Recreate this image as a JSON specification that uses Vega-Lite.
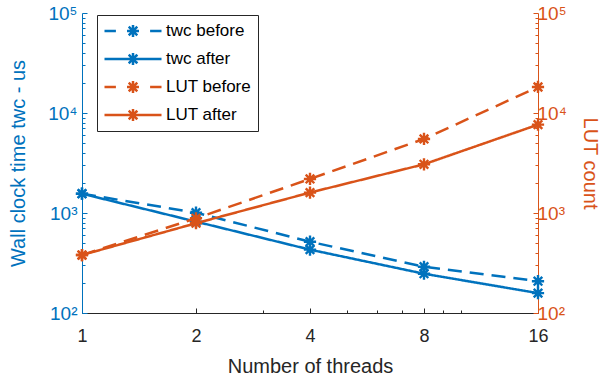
{
  "$schema": "https://vega.github.io/schema/vega-lite/v6.json",
  "width": 456,
  "height": 300,
  "autosize": {"type": "none"},
  "padding": {"left": 82, "top": 13, "right": 65, "bottom": 66},
  "config": {"view": {"stroke": null}, "font": "Liberation Sans"},
  "data": {
    "values": [
      {"threads": 1, "series": "twc before", "metric": "time", "value": 1560},
      {"threads": 2, "series": "twc before", "metric": "time", "value": 1007},
      {"threads": 4, "series": "twc before", "metric": "time", "value": 516},
      {"threads": 8, "series": "twc before", "metric": "time", "value": 290},
      {"threads": 16, "series": "twc before", "metric": "time", "value": 208},
      {"threads": 1, "series": "twc after", "metric": "time", "value": 1560},
      {"threads": 2, "series": "twc after", "metric": "time", "value": 820},
      {"threads": 4, "series": "twc after", "metric": "time", "value": 430},
      {"threads": 8, "series": "twc after", "metric": "time", "value": 247},
      {"threads": 16, "series": "twc after", "metric": "time", "value": 158},
      {"threads": 1, "series": "LUT before", "metric": "lut", "value": 380},
      {"threads": 2, "series": "LUT before", "metric": "lut", "value": 885},
      {"threads": 4, "series": "LUT before", "metric": "lut", "value": 2190},
      {"threads": 8, "series": "LUT before", "metric": "lut", "value": 5500},
      {"threads": 16, "series": "LUT before", "metric": "lut", "value": 18200},
      {"threads": 1, "series": "LUT after", "metric": "lut", "value": 380},
      {"threads": 2, "series": "LUT after", "metric": "lut", "value": 790},
      {"threads": 4, "series": "LUT after", "metric": "lut", "value": 1600},
      {"threads": 8, "series": "LUT after", "metric": "lut", "value": 3070},
      {"threads": 16, "series": "LUT after", "metric": "lut", "value": 7650}
    ]
  },
  "encoding": {
    "x": {
      "field": "threads",
      "type": "quantitative",
      "scale": {"type": "log", "base": 2, "domain": [1, 16], "nice": false},
      "axis": {
        "values": [1, 2, 3, 4, 5, 6, 7, 8, 9, 10, 16],
        "labelExpr": "indexof([1, 2, 4, 8, 16], datum.value) >= 0 ? '' + datum.value : ''",
        "tickSize": {"condition": {"test": "indexof([1, 2, 4, 8, 16], datum.value) >= 0", "value": -5}, "value": -3},
        "tickColor": "#262626",
        "domainColor": "#262626",
        "labelColor": "#262626",
        "labelFontSize": 18,
        "labelPadding": 19,
        "labelFlush": false,
        "labelOverlap": false,
        "grid": false,
        "title": "Number of threads",
        "titleColor": "#262626",
        "titleFontSize": 20,
        "titleFontWeight": "normal",
        "titlePadding": 9
      }
    },
    "color": {
      "field": "series",
      "type": "nominal",
      "scale": {
        "domain": ["twc before", "twc after", "LUT before", "LUT after"],
        "range": ["#0072BD", "#0072BD", "#D95319", "#D95319"]
      },
      "legend": {
        "orient": "none",
        "legendX": 15,
        "legendY": 2,
        "title": null,
        "fillColor": "white",
        "strokeColor": "#262626",
        "padding": 6,
        "cornerRadius": 0,
        "symbolSize": 3249,
        "symbolStrokeWidth": 2.5,
        "symbolOffset": 0,
        "clipHeight": 20,
        "rowPadding": 8,
        "labelOffset": 3,
        "labelFontSize": 17,
        "labelColor": "#000000",
        "encode": {
          "symbols": {
            "update": {
              "shape": {"signal": "indexof(datum.value, 'before') >= 0 ? 'M-1,0H-0.6M0.6,0H1M0,-0.21V0.21M-0.21,0H0.21M-0.15,-0.15L0.15,0.15M-0.15,0.15L0.15,-0.15' : 'M-1,0H1M0,-0.21V0.21M-0.15,-0.15L0.15,0.15M-0.15,0.15L0.15,-0.15'"},
              "fill": {"value": "transparent"},
              "strokeDash": {"value": [1, 0]}
            }
          }
        }
      }
    }
  },
  "layer": [
    {
      "transform": [{"filter": "datum.metric == 'time'"}],
      "encoding": {
        "y": {
          "field": "value",
          "type": "quantitative",
          "scale": {"type": "log", "domain": [100, 100000], "nice": false},
          "axis": {
            "orient": "left",
            "values": [100, 200, 300, 400, 500, 600, 700, 800, 900, 1000, 2000, 3000, 4000, 5000, 6000, 7000, 8000, 9000, 10000, 20000, 30000, 40000, 50000, 60000, 70000, 80000, 90000, 100000],
            "labelExpr": "datum.value == 100 ? '10²' : datum.value == 1000 ? '10³' : datum.value == 10000 ? '10⁴' : datum.value == 100000 ? '10⁵' : ''",
            "tickSize": {"condition": {"test": "indexof([100, 1000, 10000, 100000], datum.value) >= 0", "value": -5}, "value": -3},
            "tickColor": "#0072BD",
            "domainColor": "#0072BD",
            "labelColor": "#0072BD",
            "labelFontSize": 19,
            "labelPadding": 10,
            "labelFlush": false,
            "labelOverlap": false,
            "grid": false,
            "title": "Wall clock time  twc - us",
            "titleColor": "#0072BD",
            "titleFontSize": 20,
            "titleFontWeight": "normal",
            "titlePadding": 19
          }
        }
      },
      "layer": [
        {
          "mark": {"type": "line", "strokeWidth": 2.5},
          "encoding": {
            "strokeDash": {
              "field": "series",
              "type": "nominal",
              "scale": {"domain": ["twc before", "twc after", "LUT before", "LUT after"], "range": [[14, 8], [1, 0], [14, 8], [1, 0]]},
              "legend": null
            }
          }
        },
        {
          "mark": {"type": "point", "shape": "M0,-1V1M-1,0H1M-0.7,-0.7L0.7,0.7M-0.7,0.7L0.7,-0.7", "filled": false, "size": 150, "strokeWidth": 2.4, "opacity": 1}
        }
      ]
    },
    {
      "transform": [{"filter": "datum.metric == 'lut'"}],
      "encoding": {
        "y": {
          "field": "value",
          "type": "quantitative",
          "scale": {"type": "log", "domain": [100, 100000], "nice": false},
          "axis": {
            "orient": "right",
            "values": [100, 200, 300, 400, 500, 600, 700, 800, 900, 1000, 2000, 3000, 4000, 5000, 6000, 7000, 8000, 9000, 10000, 20000, 30000, 40000, 50000, 60000, 70000, 80000, 90000, 100000],
            "labelExpr": "datum.value == 100 ? '10²' : datum.value == 1000 ? '10³' : datum.value == 10000 ? '10⁴' : datum.value == 100000 ? '10⁵' : ''",
            "tickSize": {"condition": {"test": "indexof([100, 1000, 10000, 100000], datum.value) >= 0", "value": -5}, "value": -3},
            "tickColor": "#D95319",
            "domainColor": "#D95319",
            "labelColor": "#D95319",
            "labelFontSize": 19,
            "labelPadding": 4,
            "labelFlush": false,
            "labelOverlap": false,
            "grid": false,
            "title": "LUT count",
            "titleColor": "#D95319",
            "titleFontSize": 20,
            "titleFontWeight": "normal",
            "titlePadding": 13
          }
        }
      },
      "layer": [
        {
          "mark": {"type": "line", "strokeWidth": 2.5},
          "encoding": {
            "strokeDash": {
              "field": "series",
              "type": "nominal",
              "scale": {"domain": ["twc before", "twc after", "LUT before", "LUT after"], "range": [[14, 8], [1, 0], [14, 8], [1, 0]]},
              "legend": null
            }
          }
        },
        {
          "mark": {"type": "point", "shape": "M0,-1V1M-1,0H1M-0.7,-0.7L0.7,0.7M-0.7,0.7L0.7,-0.7", "filled": false, "size": 150, "strokeWidth": 2.4, "opacity": 1}
        }
      ]
    }
  ],
  "resolve": {"scale": {"y": "independent"}}
}
